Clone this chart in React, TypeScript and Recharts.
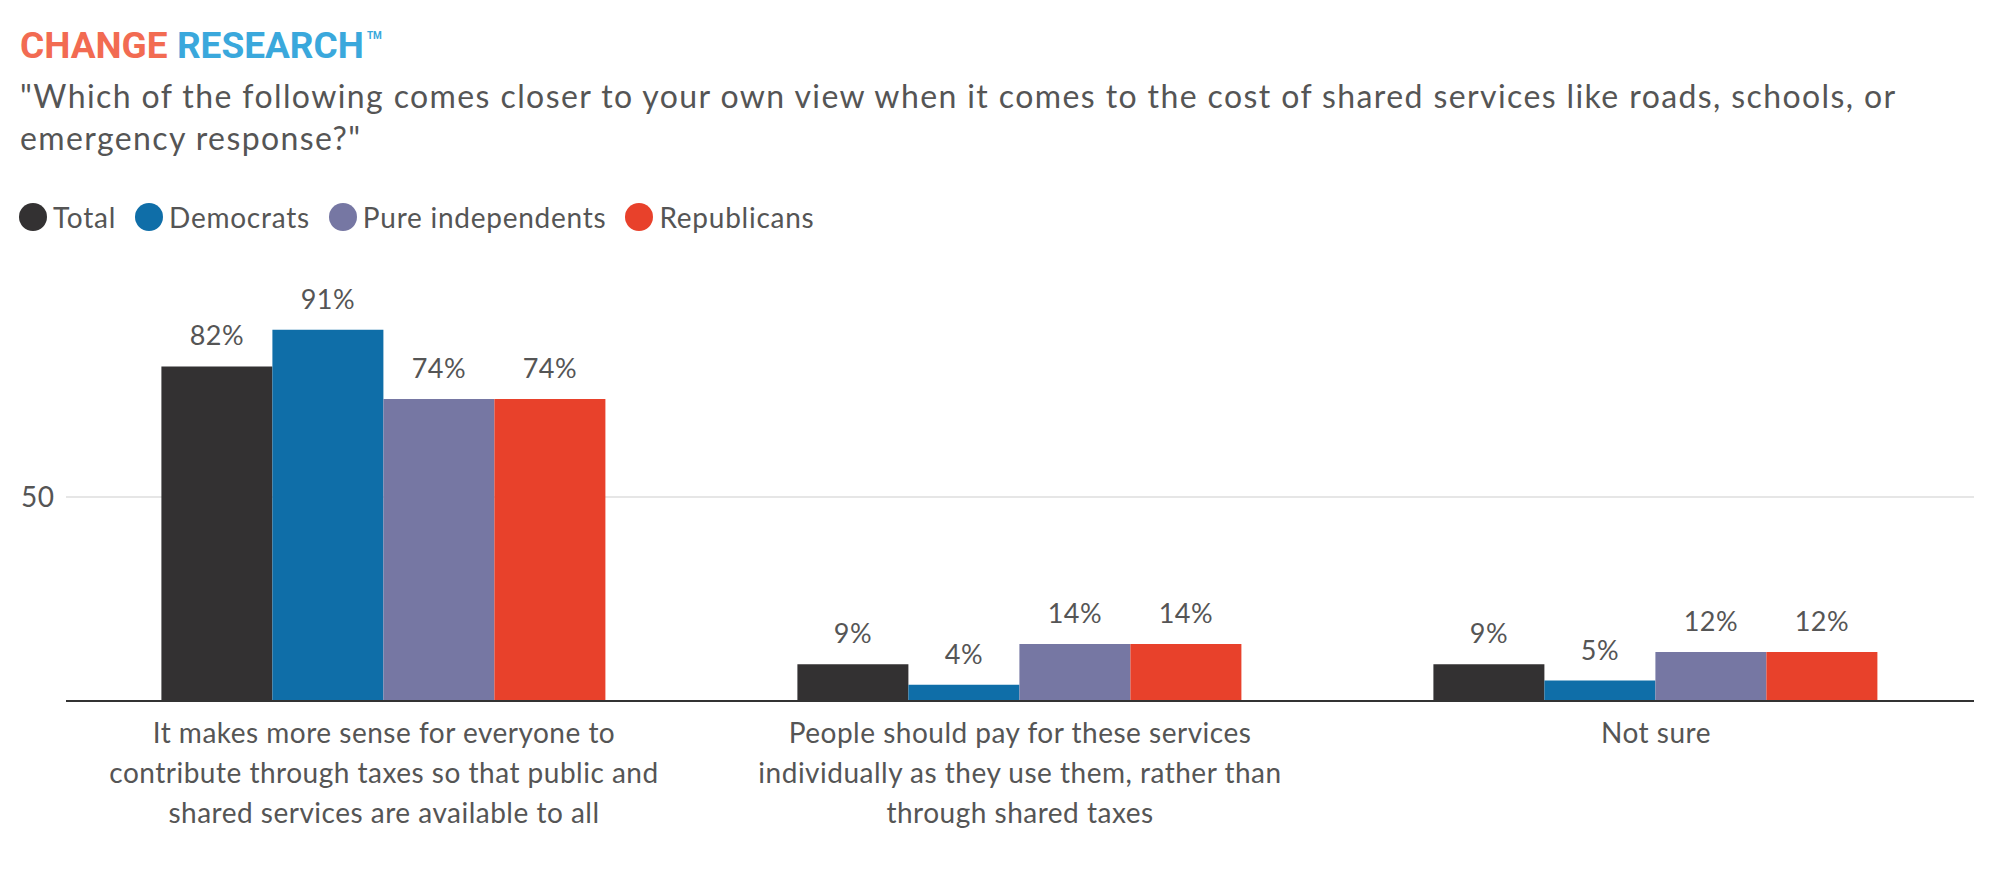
import { BarChart, Bar, XAxis, YAxis, CartesianGrid, LabelList } from "recharts";

const categories = ["taxes", "individually", "notSure"];
const categoryLines = [
  ["It makes more sense for everyone to", "contribute through taxes so that public and", "shared services are available to all"],
  ["People should pay for these services", "individually as they use them, rather than", "through shared taxes"],
  ["Not sure"],
];
const seriesNames = ["Total", "Democrats", "Pure independents", "Republicans"];
const seriesColors = ["#333132", "#0f6ea8", "#7677a3", "#e8412b"];
const total = [82, 9, 9];
const democrats = [91, 4, 5];
const pureIndependents = [74, 14, 12];
const republicans = [74, 14, 12];
const yTicks = [50];

const seriesValues = [total, democrats, pureIndependents, republicans];
const data = categories.map((c, i) => {
  const row: Record<string, string | number> = { category: c };
  seriesNames.forEach((s, j) => {
    row[s] = seriesValues[j][i];
  });
  return row;
});

const FONT = "Lato, 'Open Sans', sans-serif";
const TEXT = "#555555";

function CategoryTick(props: any) {
  const { x, y, payload } = props;
  const idx = categories.indexOf(payload.value);
  const lines = categoryLines[idx] || [];
  return (
    <text x={x} y={y} textAnchor="middle" fill={TEXT} fontSize={28} fontFamily={FONT} letterSpacing={0.5}>
      {lines.map((l, i) => (
        <tspan key={i} x={x} dy={i === 0 ? 34 : 40}>
          {l}
        </tspan>
      ))}
    </text>
  );
}

function ValueTick(props: any) {
  const { y, payload } = props;
  return (
    <text x={21} y={y} dy={10} textAnchor="start" fill={TEXT} fontSize={28} fontFamily={FONT} letterSpacing={0.5}>
      {payload.value}
    </text>
  );
}

function LegendRow() {
  return (
    <div
      style={{
        position: "absolute",
        left: 19,
        top: 200,
        display: "flex",
        alignItems: "center",
        fontFamily: FONT,
        fontSize: 28,
        letterSpacing: 0.75,
        color: TEXT,
      }}
    >
      {seriesNames.map((s, i) => (
        <div key={s} style={{ display: "flex", alignItems: "center", marginRight: 19 }}>
          <span
            style={{
              width: 28,
              height: 28,
              borderRadius: "50%",
              background: seriesColors[i],
              display: "inline-block",
              marginRight: 6,
            }}
          />
          <span style={{ lineHeight: "34px" }}>{s}</span>
        </div>
      ))}
    </div>
  );
}

export default function App() {
  return (
    <div style={{ position: "relative", width: 1999, height: 869, background: "#fff" }}>
      <style>{`body{margin:0}`}</style>
      <div
        style={{
          position: "absolute",
          left: 20,
          top: 27,
          fontFamily: "Roboto, sans-serif",
          fontWeight: 700,
          fontSize: 37,
          lineHeight: "37px",
          whiteSpace: "nowrap",
        }}
      >
        <span style={{ color: "#f26b52" }}>CHANGE</span>{" "}
        <span style={{ color: "#3aa8dc" }}>RESEARCH</span>
        <span style={{ color: "#3aa8dc", fontSize: 10, position: "relative", top: -19, marginLeft: 3 }}>TM</span>
      </div>
      <div
        style={{
          position: "absolute",
          left: 20,
          top: 75,
          fontFamily: FONT,
          fontSize: 32,
          letterSpacing: 1.4,
          lineHeight: "42px",
          color: TEXT,
          whiteSpace: "nowrap",
        }}
      >
        "Which of the following comes closer to your own view when it comes to the cost of shared services like roads, schools, or
        <br />
        emergency response?"
      </div>
      <LegendRow />
      <BarChart
        width={1999}
        height={869}
        data={data}
        margin={{ top: 293, right: 25, bottom: 138, left: 0 }}
        barGap={0}
        barCategoryGap="15%"
        style={{ position: "absolute", left: 0, top: 0 }}
      >
        <CartesianGrid vertical={false} syncWithTicks stroke="#e6e6e6" strokeWidth={2} />
        <XAxis
          dataKey="category"
          height={30}
          tick={<CategoryTick />}
          tickLine={false}
          axisLine={{ stroke: "#333", strokeWidth: 2 }}
          interval={0}
        />
        <YAxis
          width={66}
          domain={[0, 100]}
          ticks={yTicks}
          tick={<ValueTick />}
          tickLine={false}
          axisLine={false}
        />
        {seriesNames.map((s, i) => (
          <Bar key={s} dataKey={s} fill={seriesColors[i]} isAnimationActive={false}>
            <LabelList
              dataKey={s}
              position="top"
              offset={21}
              formatter={(v: any) => `${v}%`}
              fill={TEXT}
              fontSize={27}
              fontFamily={FONT}
              letterSpacing={0.5}
            />
          </Bar>
        ))}
      </BarChart>
    </div>
  );
}
